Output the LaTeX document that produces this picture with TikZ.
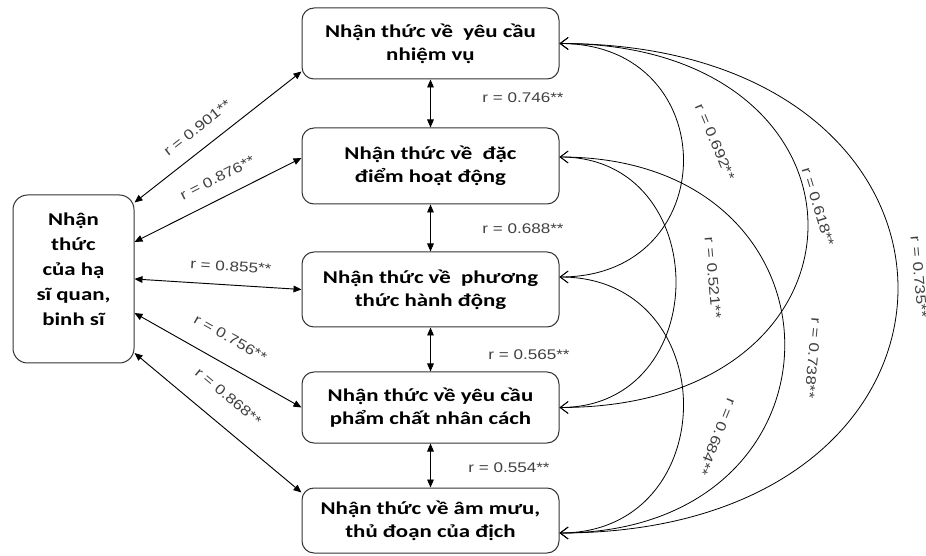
\documentclass[tikz,border=0pt]{standalone}
\usepackage{fontspec}
\setmainfont{Carlito}
\newfontfamily\boxfont[FakeStretch=1.27]{Carlito}
\newfontfamily\rfont[FakeStretch=1.22]{Liberation Sans}
\usetikzlibrary{arrows.meta,calc}

\begin{document}
\begin{tikzpicture}[x=0.75pt,y=-0.75pt,
  box/.style={draw=black!80, line width=0.75pt, rounded corners=9pt,
    align=center, inner sep=0pt, minimum width=192.75pt,
    font=\boxfont\bfseries\fontsize{13.5}{17.5}\selectfont},
  sidebox/.style={box, rounded corners=11pt, minimum width=90.75pt,
    minimum height=126pt, font=\boxfont\bfseries\fontsize{13.5}{18.75}\selectfont},
  lbl/.style={font=\rfont\fontsize{10.5}{12}\selectfont, text=black!75, inner sep=0pt},
  link/.style={line width=0.7pt, {Triangle[length=6pt,width=5pt]}-{Triangle[length=6pt,width=5pt]}},
  arc/.style={line width=0.6pt, {Straight Barb[length=6pt,width=9pt]}-{Straight Barb[length=6pt,width=9pt]}}
]
\useasboundingbox (0,0) rectangle (926,556);

% the five aspects of awareness
\node[box, minimum height=53.25pt] (B1) at (430.5,43.5) {Nhận thức về\ \ yêu cầu\\nhiệm vụ};
\node[box, minimum height=57pt]    (B2) at (430.5,166)  {Nhận thức về\ \ đặc\\điểm hoạt động};
\node[box, minimum height=56.25pt] (B3) at (430.5,289.5){Nhận thức về\ \ phương\\thức hành động};
\node[box, minimum height=53.25pt] (B4) at (430.5,407.5){Nhận thức về yêu cầu\\phẩm chất nhân cách};
\node[box, minimum height=48.75pt] (B5) at (430.5,520.5){Nhận thức về âm mưu,\\thủ đoạn của địch};

% overall awareness
\node[sidebox] (L) at (73.5,279) {Nhận\\thức\\của hạ\\sĩ quan,\\binh sĩ\\[-3.75pt]\mbox{}};

% links from the overall awareness to each aspect
\draw[link] ($(L.north east)+(0,8)$) -- node[lbl, sloped, pos=0.45, above=11pt] (r901) {r = 0.901**} ($(B1.south west)+(0,-8)$);
\draw[link] ($(L.east)+(0,-37)$) -- node[lbl, sloped, pos=0.55, above=11pt] (r876) {r = 0.876**} ($(B2.west)+(0,-8)$);
\draw[link] (L.east) -- node[lbl, sloped, pos=0.57, above=10pt] (r855) {r = 0.855**} (B3.west);
\draw[link] ($(L.east)+(0,34)$) -- node[lbl, sloped, pos=0.5, above=15pt] (r756) {r = 0.756**} (B4.west);
\draw[link] ($(L.east)+(0,74)$) -- node[lbl, sloped, pos=0.46, above=16pt] (r868) {r = 0.868**} ($(B5.north west)+(0,5)$);

% links between consecutive aspects
\draw[link] (B1.south) -- (B2.north);
\draw[link] (B2.south) -- (B3.north);
\draw[link] (B3.south) -- (B4.north);
\draw[link] (B4.south) -- (B5.north);
\node[lbl] (r746) at (523,98)  {r = 0.746**};
\node[lbl] (r688) at (523,229) {r = 0.688**};
\node[lbl] (r565) at (529,355) {r = 0.565**};
\node[lbl] (r554) at (509,468) {r = 0.554**};

% arcs between non-adjacent aspects
\draw[arc] (B1.east) .. controls +(165,0) and +(165,0) .. ($(B3.east)+(0,-12.5)$);
\draw[arc] (B1.east) .. controls +(331,0) and +(331,0) .. (B4.east);
\draw[arc] (B1.east) .. controls +(451,0) and +(451,0) .. ($(B5.east)+(0,12.5)$);
\draw[arc] ($(B2.east)+(0,-9)$) .. controls +(155,0) and +(155,0) .. (B4.east);
\draw[arc] ($(B2.east)+(0,-9)$) .. controls +(300,0) and +(300,0) .. ($(B5.east)+(0,12.5)$);
\draw[arc] ($(B3.east)+(0,-12.5)$) .. controls +(165,0) and +(165,0) .. ($(B5.east)+(0,12.5)$);

\node[lbl, rotate=-67]  (r692) at (715,142) {r = 0.692**};
\node[lbl, rotate=-73]  (r618) at (818,207) {r = 0.618**};
\node[lbl, rotate=-85]  (r735) at (919,277) {r = 0.735**};
\node[lbl, rotate=-85]  (r521) at (713,278) {r = 0.521**};
\node[lbl, rotate=-95]  (r738) at (813,358) {r = 0.738**};
\node[lbl, rotate=-112] (r684) at (717,437) {r = 0.684**};
\end{tikzpicture}
\end{document}
